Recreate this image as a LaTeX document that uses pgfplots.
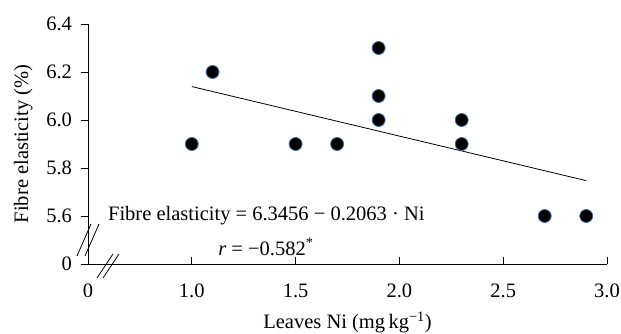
\documentclass[border=0pt]{standalone}
\usepackage{pgfplots}
\pgfplotsset{compat=1.18}
\usepackage{fontspec}
\setmainfont{Liberation Serif}
\definecolor{edgeblue}{RGB}{70,110,170}
\begin{document}
\fontsize{20.5}{23}\selectfont
\begin{tikzpicture}
\begin{axis}[
  scale only axis, width=519pt, height=240pt,
  xmin=0.5, xmax=3.0, ymin=5.4, ymax=6.4,
  axis x line*=bottom, axis y line*=left,
  axis line style={-, line width=0.8pt},
  clip=false,
  xtick={0.5,1,1.5,2,2.5,3}, xticklabels={0,1.0,1.5,2.0,2.5,3.0},
  ytick={5.4,5.6,5.8,6.0,6.2,6.4}, yticklabels={0,5.6,5.8,6.0,6.2,6.4},
  tick align=outside, major tick length=7pt,
  tick style={black, line width=0.8pt},
  x tick style={yshift=7pt},
  /pgf/number format/assume math mode=true,
  ticklabel style={font=\fontsize{20.5}{23}\selectfont},
  yticklabel style={xshift=-2pt},
  xticklabel style={yshift=-6pt},
  xlabel={Leaves Ni (mg\,kg\textsuperscript{−1})},
  ylabel={Fibre elasticity (\%)},
  label style={font=\fontsize{20.5}{23}\selectfont},
  xlabel style={yshift=0pt},
  ylabel style={yshift=0pt},
]
\addplot[black, line width=0.8pt] coordinates {(1.0,6.1393) (2.9,5.7473)};
\addplot[only marks, mark=*, mark size=6.5pt, mark options={fill=black, draw=edgeblue, line width=0.8pt}] coordinates {
 (1.0,5.9) (1.1,6.2) (1.5,5.9) (1.7,5.9) (1.9,6.3) (1.9,6.1) (1.9,6.0)
 (2.3,6.0) (2.3,5.9) (2.7,5.6) (2.9,5.6)};
\node[anchor=west, inner sep=0pt] at (axis cs:0.596,5.6) {Fibre elasticity = 6.3456 − 0.2063 · Ni};
\node[inner sep=0pt] at (axis cs:1.357,5.471) {\textit{r} = −0.582\textsuperscript{*}};
\draw[line width=0.8pt] ([xshift=-11pt,yshift=-16pt]axis cs:0.5,5.5) -- ([xshift=3pt,yshift=16pt]axis cs:0.5,5.5);
\draw[line width=0.8pt] ([xshift=-3pt,yshift=-16pt]axis cs:0.5,5.5) -- ([xshift=11pt,yshift=16pt]axis cs:0.5,5.5);
\draw[line width=0.8pt] ([xshift=-13pt,yshift=-14pt]axis cs:0.606,5.4) -- ([xshift=3pt,yshift=10pt]axis cs:0.606,5.4);
\draw[line width=0.8pt] ([xshift=-7pt,yshift=-14pt]axis cs:0.606,5.4) -- ([xshift=9pt,yshift=10pt]axis cs:0.606,5.4);
\end{axis}
\pgfresetboundingbox
\path ([shift={(-88pt,-70pt)}]current axis.south west) rectangle ([shift={(14pt,24pt)}]current axis.north east);
\end{tikzpicture}
\end{document}
